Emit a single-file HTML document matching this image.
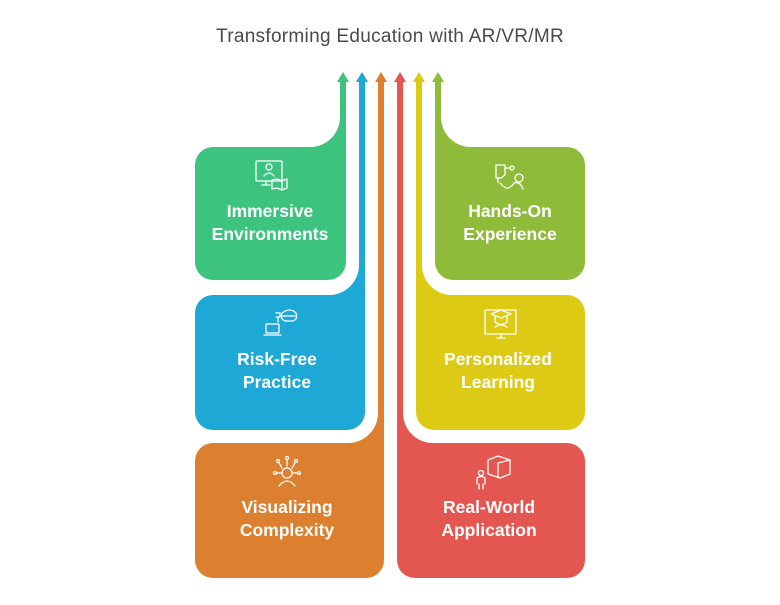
<!DOCTYPE html>
<html><head><meta charset="utf-8"><style>
body{margin:0;background:#fff;}
svg{display:block}
text{font-family:"Liberation Sans",sans-serif;}
.t{font-weight:bold;font-size:17.5px;fill:#fff;text-anchor:middle}
.i{fill:none;stroke:#fff;stroke-width:1.3;stroke-linecap:round;stroke-linejoin:round}
</style></head><body>
<svg width="780" height="605" viewBox="0 0 780 605">
<text x="390" y="42" font-size="19" fill="#4a4a4a" text-anchor="middle" letter-spacing="0.3">Transforming Education with AR/VR/MR</text>

<!-- green -->
<path fill="#3CC47F" d="M213 147 L310 147 A30 30 0 0 0 340 117 L340 82 L346 82 L346 262 A18 18 0 0 1 328 280 L213 280 A18 18 0 0 1 195 262 L195 165 A18 18 0 0 1 213 147Z"/>
<polygon fill="#3CC47F" points="337,82 349,82 343,72"/>
<!-- blue -->
<path fill="#1EA8D6" d="M213 295 L329 295 A30 30 0 0 0 359 265 L359 82 L365 82 L365 412 A18 18 0 0 1 347 430 L213 430 A18 18 0 0 1 195 412 L195 313 A18 18 0 0 1 213 295Z"/>
<polygon fill="#1EA8D6" points="356,82 368,82 362,72"/>
<!-- orange -->
<path fill="#DC7F2E" d="M213 443 L348 443 A30 30 0 0 0 378 413 L378 82 L384 82 L384 560 A18 18 0 0 1 366 578 L213 578 A18 18 0 0 1 195 560 L195 461 A18 18 0 0 1 213 443Z"/>
<polygon fill="#DC7F2E" points="375,82 387,82 381,72"/>
<!-- red -->
<path fill="#E45650" d="M567 443 L433 443 A30 30 0 0 1 403 413 L403 82 L397 82 L397 560 A18 18 0 0 0 415 578 L567 578 A18 18 0 0 0 585 560 L585 461 A18 18 0 0 0 567 443Z"/>
<polygon fill="#E45650" points="394,82 406,82 400,72"/>
<!-- yellow -->
<path fill="#DDCA14" d="M567 295 L452 295 A30 30 0 0 1 422 265 L422 82 L416 82 L416 412 A18 18 0 0 0 434 430 L567 430 A18 18 0 0 0 585 412 L585 313 A18 18 0 0 0 567 295Z"/>
<polygon fill="#DDCA14" points="413,82 425,82 419,72"/>
<!-- lime -->
<path fill="#8FBB3A" d="M567 147 L471 147 A30 30 0 0 1 441 117 L441 82 L435 82 L435 262 A18 18 0 0 0 453 280 L567 280 A18 18 0 0 0 585 262 L585 165 A18 18 0 0 0 567 147Z"/>
<polygon fill="#8FBB3A" points="432,82 444,82 438,72"/>

<!-- icons -->
<g class="i">
 <rect x="256" y="161" width="26" height="20" rx="1"/><circle cx="269" cy="167" r="3"/><path d="M264 176 q5 -6 10 0 M266 181 v4 M262 185 h8"/>
 <path d="M272 180 l5 -1 l5 2 l5 -2 v9 l-5 2 l-5 -2 l-5 1z M282 181 v9"/>
</g>
<g class="i">
 <path d="M496 165 h9 v10 l-4 3 h-5z M505 168 h5 M510 168 a2 2 0 1 0 4 0 a2 2 0 1 0 -4 0 M498 178 v4"/>
 <circle cx="519" cy="178" r="4"/><path d="M500 183 q8 10 14 0 q6 -2 9 6"/>
</g>
<g class="i">
 <path d="M276 313 h4 v4 h-4 M278 317 v5"/><rect x="266" y="324" width="13" height="9" rx="1"/><path d="M264 335 h17"/>
 <path d="M282 313 q8 -6 14 0 q2 6 -3 8 h-8 q-5 -2 -3 -8z M283 316 h12"/>
</g>
<g class="i">
 <rect x="485" y="310" width="31" height="24" rx="1"/><path d="M491 314 l10 -4 l10 4 l-10 4z M495 317 v5 q6 5 12 0 v-5 M495 327 q6 -4 12 0 M497 338 h8 M501 334 v4"/>
</g>
<g class="i">
 <circle cx="287" cy="473" r="5"/><path d="M279 486 q8 -10 16 0 M282 468 l-3 -5 M292 468 l3 -5 M287 466 v-6 M281 473 h-4 M293 473 h4"/>
 <circle cx="278" cy="461" r="1.5"/><circle cx="287" cy="458" r="1.5"/><circle cx="296" cy="461" r="1.5"/><circle cx="275" cy="473" r="1.5"/><circle cx="299" cy="473" r="1.5"/>
</g>
<g class="i">
 <circle cx="481" cy="473" r="2.5"/><path d="M477 484 v-6 q4 -3 8 0 v6 M479 484 v5 M483 484 v5"/>
 <path d="M488 460 l10 -4 l12 4 v14 l-10 4 l-12 -4z M498 463 l12 -3 M498 463 v14"/>
</g>

<text class="t" x="270" y="217">Immersive</text>
<text class="t" x="270" y="240">Environments</text>
<text class="t" x="510" y="217">Hands-On</text>
<text class="t" x="510" y="240">Experience</text>
<text class="t" x="277" y="365">Risk-Free</text>
<text class="t" x="277" y="388">Practice</text>
<text class="t" x="498" y="365">Personalized</text>
<text class="t" x="498" y="388">Learning</text>
<text class="t" x="287" y="513">Visualizing</text>
<text class="t" x="287" y="536">Complexity</text>
<text class="t" x="489" y="513">Real-World</text>
<text class="t" x="489" y="536">Application</text>
</svg>
</body></html>
